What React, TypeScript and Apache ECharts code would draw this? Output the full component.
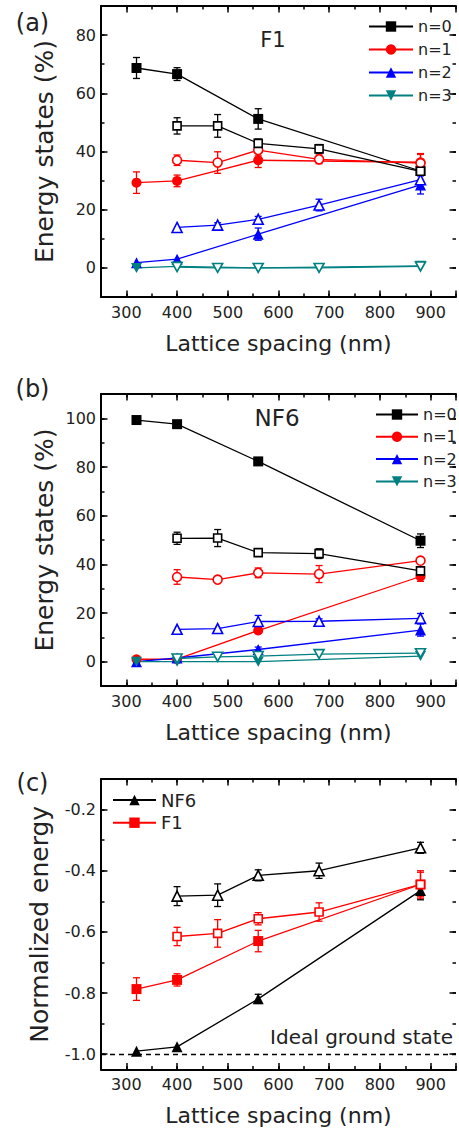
import React, { useEffect, useRef } from 'react';
import * as echarts from 'echarts';

const FONT = '"DejaVu Sans", "Liberation Sans", sans-serif';
const TEXT = '#222';
const BLACK = '#000000';
const RED = '#ff0000';
const BLUE = '#0000ff';
const TEAL = '#008080';

// shared x positions (lattice spacing, nm)
const xFilled = [320, 400, 560, 880];
const xOpen = [400, 480, 560, 680, 880];

// Panel (a) F1 — energy states (%)
const aN0Filled = [68.7, 66.6, 51.2, 33.3];
const aN0FilledErr = [3.6, 2.2, 3.5, 0];
const aN0Open = [48.8, 48.8, 42.8, 40.9, 33.2];
const aN0OpenErr = [2.8, 3.9, 1.5, 1.5, 1.0];
const aN1Filled = [29.3, 29.9, 37.0, 36.3];
const aN1FilledErr = [3.7, 2.0, 2.5, 3.0];
const aN1Open = [37.0, 36.2, 40.5, 37.3, 36.0];
const aN1OpenErr = [1.8, 3.7, 2.0, 1.5, 3.0];
const aN2Filled = [1.8, 3.0, 11.6, 28.5];
const aN2FilledErr = [0, 0, 2.1, 3.1];
const aN2Open = [13.9, 14.7, 16.7, 21.6, 30.3];
const aN2OpenErr = [0, 0.8, 1.0, 2.0, 1.5];
const aN3Filled = [0, 0.5, 0, 0.7];
const aN3Open = [0.3, 0, 0, 0, 0.5];

// Panel (b) NF6 — energy states (%)
const bN0Filled = [99.3, 97.6, 82.3, 49.7];
const bN0FilledErr = [0, 0, 1.0, 2.8];
const bN0Open = [50.7, 50.8, 44.8, 44.4, 37.3];
const bN0OpenErr = [2.5, 3.5, 1.0, 2.0, 1.5];
const bN1Filled = [1.0, 1.0, 12.8, 35.0];
const bN1FilledErr = [0, 0, 1.0, 2.0];
const bN1Open = [34.8, 33.7, 36.5, 36.0, 41.5];
const bN1OpenErr = [3.0, 1.0, 2.0, 3.5, 1.0];
const bN2Filled = [0, 1.5, 5.0, 13.0];
const bN2FilledErr = [0, 1.0, 1.0, 2.5];
const bN2Open = [13.3, 13.6, 16.5, 16.6, 17.8];
const bN2OpenErr = [0, 0, 2.5, 1.0, 2.0];
const bN3Filled = [0, 0, 0, 2.3];
const bN3Open = [1.3, 2.0, 2.3, 3.1, 3.5];

// Panel (c) normalized energy
const cNF6Filled = [-0.99, -0.976, -0.819, -0.465];
const cNF6FilledErr = [0, 0, 0.015, 0.03];
const cNF6Open = [-0.483, -0.48, -0.415, -0.4, -0.325];
const cNF6OpenErr = [0.031, 0.037, 0.018, 0.025, 0.018];
const cF1Filled = [-0.787, -0.757, -0.63, -0.445];
const cF1FilledErr = [0.037, 0.02, 0.035, 0.04];
const cF1Open = [-0.615, -0.605, -0.557, -0.535, -0.445];
const cF1OpenErr = [0.03, 0.045, 0.02, 0.03, 0.045];
const IDEAL = -1.0;

// tick labels
const xTickLabels = [300, 400, 500, 600, 700, 800, 900];
const aYTickLabels = [0, 20, 40, 60, 80];
const bYTickLabels = [0, 20, 40, 60, 80, 100];
const cYTickLabels = [-1.0, -0.8, -0.6, -0.4, -0.2];

const SQUARE = 'rect';
const CIRCLE = 'circle';
const UP = 'triangle';
const DOWN = 'path://M0,0L2,0L1,1.732Z';

const near = (v: number, list: number[]) => list.some((t) => Math.abs(t - v) < 1e-6);

function lineSeries(g: number, name: string, xs: number[], ys: number[], color: string, symbol: string, filled: boolean, size: any) {
  return {
    type: 'line',
    name,
    xAxisIndex: g * 4,
    yAxisIndex: g * 4,
    data: xs.map((x, i) => [x, ys[i]]),
    symbol,
    symbolSize: size,
    showAllSymbol: true,
    z: 3,
    lineStyle: { color, width: 1.3 },
    itemStyle: filled
      ? { color, borderColor: color, borderWidth: 0 }
      : { color: '#ffffff', borderColor: color, borderWidth: 1.6 },
    emphasis: { disabled: true },
  };
}

function errSeries(g: number, xs: number[], ys: number[], es: number[], color: string) {
  return {
    type: 'custom',
    name: 'err',
    xAxisIndex: g * 4,
    yAxisIndex: g * 4,
    z: 2,
    silent: true,
    data: xs.map((x, i) => [x, ys[i], es[i]]),
    encode: { x: 0, y: 1 },
    renderItem: (_p: any, api: any) => {
      const x = api.value(0);
      const y = api.value(1);
      const e = api.value(2);
      if (!(e > 0)) return null;
      const p1 = api.coord([x, y + e]);
      const p2 = api.coord([x, y - e]);
      const w = 3.5;
      const st = { stroke: color, lineWidth: 1.3, fill: null };
      return {
        type: 'group',
        children: [
          { type: 'line', shape: { x1: p1[0], y1: p1[1], x2: p2[0], y2: p2[1] }, style: st },
          { type: 'line', shape: { x1: p1[0] - w, y1: p1[1], x2: p1[0] + w, y2: p1[1] }, style: st },
          { type: 'line', shape: { x1: p2[0] - w, y1: p2[1], x2: p2[0] + w, y2: p2[1] }, style: st },
        ],
      };
    },
  };
}

const tickStyle = { color: BLACK, width: 1.5 };
const lineAx = { show: true, onZero: false, lineStyle: { color: BLACK, width: 2 } };
const noLine = { show: false, onZero: false };
const labelStyle = { color: TEXT, fontSize: 16, fontFamily: FONT };

function axesSet(dim: 'x' | 'y', g: number, min: number, max: number, minor: any, majorSplit: number, fmt: (v: number) => string, name: string, nameGap: number, nameSize: number) {
  const base = { type: 'value', gridIndex: g, min, max, splitLine: { show: false }, silent: true };
  const p1 = dim === 'x' ? 'bottom' : 'left';
  const p2 = dim === 'x' ? 'top' : 'right';
  // far side (top / right): the x axis keeps its line, the right edge falls outside the picture
  const farLine = dim === 'x' ? lineAx : noLine;
  return [
    {
      ...base, ...minor, position: p1, axisLine: lineAx,
      axisTick: { show: true, inside: true, length: 3.5, lineStyle: tickStyle },
      axisLabel: { show: false },
      name, nameLocation: 'middle', nameGap,
      nameTextStyle: { color: TEXT, fontSize: nameSize, fontFamily: FONT },
    },
    {
      ...base, splitNumber: majorSplit, position: p1, axisLine: noLine,
      axisTick: { show: true, inside: true, length: 6.5, lineStyle: tickStyle },
      axisLabel: { show: true, formatter: fmt, margin: dim === 'x' ? 7 : 5, showMinLabel: true, showMaxLabel: true, hideOverlap: false, ...labelStyle },
    },
    {
      ...base, ...minor, position: p2, axisLine: farLine,
      axisTick: { show: true, inside: true, length: 3.5, lineStyle: tickStyle },
      axisLabel: { show: false },
    },
    {
      ...base, splitNumber: majorSplit, position: p2, axisLine: noLine,
      axisTick: { show: true, inside: true, length: 6.5, lineStyle: tickStyle },
      axisLabel: { show: false },
    },
  ];
}

const xFmt = (v: number) => (near(v, xTickLabels) ? String(Math.round(v)) : '');
const aFmt = (v: number) => (near(v, aYTickLabels) ? String(Math.round(v)) : '');
const bFmt = (v: number) => (near(v, bYTickLabels) ? String(Math.round(v)) : '');
const cFmt = (v: number) => (near(v, cYTickLabels) ? v.toFixed(1) : '');

function txt(text: string, x: number, y: number, size: number, align = 'center') {
  return {
    type: 'text',
    x,
    y,
    silent: true,
    style: { text, fill: TEXT, fontSize: size, fontFamily: FONT, align, verticalAlign: 'middle' },
  };
}

export default function App() {
  const ref = useRef<HTMLDivElement>(null);
  useEffect(() => {
    if (!ref.current) return;
    const chart = echarts.init(ref.current, null, { renderer: 'svg' });
    const X_TITLE = 'Lattice spacing (nm)';
    const xAxis = [
      ...axesSet('x', 0, 250, 950, { interval: 50 }, 7, xFmt, X_TITLE, 35, 22),
      ...axesSet('x', 1, 250, 950, { interval: 50 }, 7, xFmt, X_TITLE, 35, 22),
      ...axesSet('x', 2, 250, 950, { interval: 50 }, 7, xFmt, X_TITLE, 35, 22),
    ];
    const yAxis = [
      ...axesSet('y', 0, -10, 90, { interval: 10 }, 5, aFmt, 'Energy states (%)', 44, 25),
      ...axesSet('y', 1, -10, 110, { interval: 10 }, 6, bFmt, 'Energy states (%)', 44, 25),
      ...axesSet('y', 2, -1.05, -0.1, { splitNumber: 10 }, 5, cFmt, 'Normalized energy', 49, 25),
    ];
    const series: any[] = [
      // (a)
      errSeries(0, xFilled, aN0Filled, aN0FilledErr, BLACK),
      errSeries(0, xOpen, aN0Open, aN0OpenErr, BLACK),
      errSeries(0, xFilled, aN1Filled, aN1FilledErr, RED),
      errSeries(0, xOpen, aN1Open, aN1OpenErr, RED),
      errSeries(0, xFilled, aN2Filled, aN2FilledErr, BLUE),
      errSeries(0, xOpen, aN2Open, aN2OpenErr, BLUE),
      lineSeries(0, 'n=0', xFilled, aN0Filled, BLACK, SQUARE, true, 10),
      lineSeries(0, 'n=1', xFilled, aN1Filled, RED, CIRCLE, true, 10),
      lineSeries(0, 'n=2', xFilled, aN2Filled, BLUE, UP, true, 11),
      lineSeries(0, 'n=3', xFilled, aN3Filled, TEAL, DOWN, true, [11, 10]),
      lineSeries(0, 'n=3 open', xOpen, aN3Open, TEAL, DOWN, false, [10, 9]),
      lineSeries(0, 'n=2 open', xOpen, aN2Open, BLUE, UP, false, 10),
      lineSeries(0, 'n=1 open', xOpen, aN1Open, RED, CIRCLE, false, 9),
      lineSeries(0, 'n=0 open', xOpen, aN0Open, BLACK, SQUARE, false, 8),
      // (b)
      errSeries(1, xFilled, bN0Filled, bN0FilledErr, BLACK),
      errSeries(1, xOpen, bN0Open, bN0OpenErr, BLACK),
      errSeries(1, xFilled, bN1Filled, bN1FilledErr, RED),
      errSeries(1, xOpen, bN1Open, bN1OpenErr, RED),
      errSeries(1, xFilled, bN2Filled, bN2FilledErr, BLUE),
      errSeries(1, xOpen, bN2Open, bN2OpenErr, BLUE),
      lineSeries(1, 'n=0', xFilled, bN0Filled, BLACK, SQUARE, true, 10),
      lineSeries(1, 'n=1', xFilled, bN1Filled, RED, CIRCLE, true, 10),
      lineSeries(1, 'n=2', xFilled, bN2Filled, BLUE, UP, true, 11),
      lineSeries(1, 'n=3', xFilled, bN3Filled, TEAL, DOWN, true, [11, 10]),
      lineSeries(1, 'n=3 open', xOpen, bN3Open, TEAL, DOWN, false, [10, 9]),
      lineSeries(1, 'n=2 open', xOpen, bN2Open, BLUE, UP, false, 10),
      lineSeries(1, 'n=1 open', xOpen, bN1Open, RED, CIRCLE, false, 9),
      lineSeries(1, 'n=0 open', xOpen, bN0Open, BLACK, SQUARE, false, 8),
      // (c)
      errSeries(2, xFilled, cNF6Filled, cNF6FilledErr, BLACK),
      errSeries(2, xOpen, cNF6Open, cNF6OpenErr, BLACK),
      errSeries(2, xFilled, cF1Filled, cF1FilledErr, RED),
      errSeries(2, xOpen, cF1Open, cF1OpenErr, RED),
      {
        ...lineSeries(2, 'NF6', xFilled, cNF6Filled, BLACK, UP, true, 11),
        markLine: {
          silent: true,
          symbol: 'none',
          label: { show: false },
          lineStyle: { color: BLACK, width: 1.3, type: [5, 4] },
          data: [{ yAxis: IDEAL }],
        },
      },
      lineSeries(2, 'F1', xFilled, cF1Filled, RED, SQUARE, true, 10),
      lineSeries(2, 'NF6 open', xOpen, cNF6Open, BLACK, UP, false, 10),
      lineSeries(2, 'F1 open', xOpen, cF1Open, RED, SQUARE, false, 8),
    ];
    const legendText = { color: TEXT, fontSize: 16, fontFamily: FONT };
    chart.setOption({
      animation: false,
      grid: [
        { left: 101, top: 6, width: 360, height: 291 },
        { left: 101, top: 394, width: 360, height: 292 },
        { left: 101, top: 779, width: 360, height: 290.5 },
      ],
      xAxis,
      yAxis,
      legend: [
        {
          data: ['n=0', 'n=1', 'n=2', 'n=3'], orient: 'vertical', left: 368, top: 18.5,
          itemWidth: 44, itemHeight: 13, itemGap: 7, padding: 0, selectedMode: false, textStyle: legendText,
        },
        {
          data: ['n=0', 'n=1', 'n=2', 'n=3'], orient: 'vertical', left: 375, top: 406.5,
          itemWidth: 42, itemHeight: 13, itemGap: 6.3, padding: 0, selectedMode: false, textStyle: legendText,
        },
        {
          data: ['NF6', 'F1'], orient: 'vertical', left: 112, top: 791,
          itemWidth: 43, itemHeight: 13, itemGap: 4.7, padding: 0, selectedMode: false,
          textStyle: { ...legendText, fontSize: 18 },
        },
      ],
      graphic: [
        txt('(a)', 32.5, 23, 24),
        txt('(b)', 32.5, 389, 24),
        txt('(c)', 32.5, 783, 24),
        txt('F1', 273, 40, 21),
        txt('NF6', 277, 418, 23),
        txt('Ideal ground state', 361.5, 1037, 20),
      ],
      series,
    });
    return () => chart.dispose();
  }, []);
  return (
    <div
      ref={ref}
      style={{ position: 'absolute', left: 0, top: 0, width: 459, height: 1130, background: '#fff' }}
    />
  );
}
